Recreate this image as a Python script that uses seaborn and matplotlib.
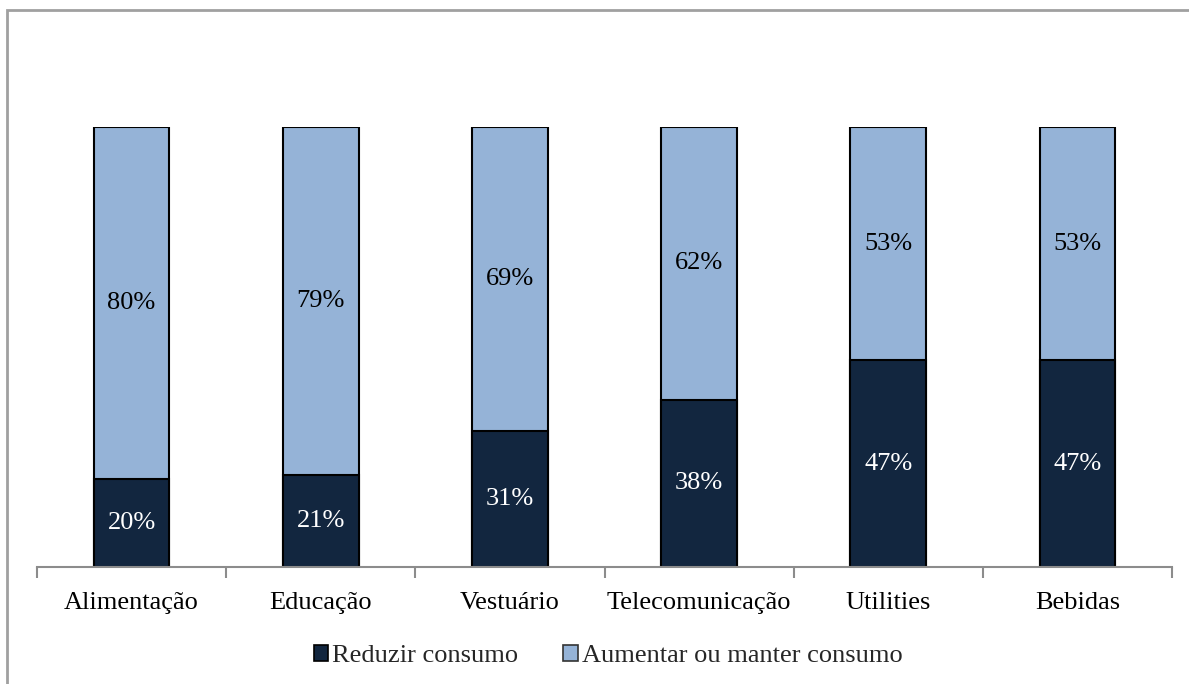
import matplotlib
matplotlib.use("Agg")
import matplotlib.pyplot as plt
import seaborn as sns
import pandas as pd
from matplotlib.patches import Patch, Rectangle
from matplotlib.ticker import FixedLocator

categories = ["Alimentação", "Educação", "Vestuário", "Telecomunicação", "Utilities", "Bebidas"]
reduzir = [20, 21, 31, 38, 47, 47]
aumentar = [80, 79, 69, 62, 53, 53]
series_names = ["Reduzir consumo", "Aumentar ou manter consumo"]

dark = "#12263F"
light = "#95B3D7"

sns.set_theme(style="white")
plt.rcParams["font.family"] = ["Liberation Serif", "DejaVu Serif"]

df = pd.DataFrame({"categoria": categories, "reduzir": reduzir, "aumentar": aumentar})
df["total"] = df["reduzir"] + df["aumentar"]

W, H = 1189, 684
fig = plt.figure(figsize=(W / 100, H / 100), dpi=100)
ax = fig.add_axes([37 / W, (H - 567) / H, (1172 - 37) / W, (567 - 127) / H])

# stacked bars: full height in light blue, lower segment in navy on top
sns.barplot(data=df, x="categoria", y="total", color=light, width=0.4,
            edgecolor="black", linewidth=1.5, saturation=1, ax=ax)
sns.barplot(data=df, x="categoria", y="reduzir", color=dark, width=0.4,
            edgecolor="black", linewidth=1.5, saturation=1, ax=ax)

ax.set_xlim(-0.5, len(categories) - 0.5)
ax.set_ylim(0, 100)
ax.set_xlabel("")
ax.set_ylabel("")
ax.set_yticks([])

for s in ["top", "right", "left"]:
    ax.spines[s].set_visible(False)
ax.spines["bottom"].set_color("#8c8c8c")
ax.spines["bottom"].set_linewidth(1.5)

ax.tick_params(axis="x", which="major", length=0, pad=18, labelsize=19, labelcolor="black")
ax.xaxis.set_minor_locator(FixedLocator([i - 0.5 for i in range(len(categories) + 1)]))
ax.tick_params(axis="x", which="minor", length=8, width=1.5, color="#8c8c8c", bottom=True)

for i, (r, a) in enumerate(zip(reduzir, aumentar)):
    ax.text(i, r / 2, f"{r}%", ha="center", va="center", fontsize=19, color="white")
    ax.text(i, r + a / 2, f"{a}%", ha="center", va="center", fontsize=19, color="black")

handles = [Patch(facecolor=dark, edgecolor="black", linewidth=1.2),
           Patch(facecolor=light, edgecolor="#333333", linewidth=1.2)]
fig.legend(handles, series_names, loc="center", bbox_to_anchor=(608 / W, 1 - 656 / H),
           ncol=2, frameon=False, fontsize=19, handlelength=0.55, handleheight=0.55,
           handletextpad=0.15, columnspacing=1.7, borderaxespad=0)

# outer chart frame
fig.patches.append(Rectangle((7 / W, -0.1), 1.2, (H - 10) / H + 0.1, transform=fig.transFigure,
                             fill=False, edgecolor="#a0a0a0", linewidth=2))

fig.savefig("out.png", dpi=100, facecolor="white")
